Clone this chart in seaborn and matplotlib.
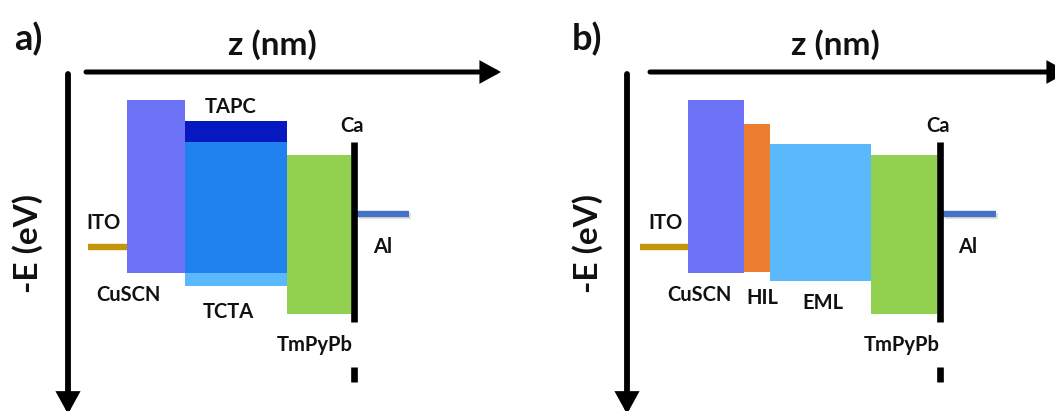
import numpy as np
import matplotlib
matplotlib.use("Agg")
import matplotlib.pyplot as plt
import matplotlib.patheffects as pe
import seaborn as sns

# ---------------- data ----------------
# panel a) energy levels (eV) and layer extents along z (arb. units)
a_layers = ["CuSCN", "TAPC", "TCTA", "TmPyPb"]
a_z_start = [59, 117, 117, 219]
a_z_end = [117, 219, 219, 283]
a_lumo = [-1.86, -2.28, -2.70, -2.96]
a_homo = [-5.32, -5.32, -5.58, -6.14]

# panel b)
b_layers = ["CuSCN", "HIL", "EML", "TmPyPb"]
b_z_start = [61, 117, 143, 244]
b_z_end = [117, 143, 244, 310]
b_lumo = [-1.86, -2.34, -2.74, -2.96]
b_homo = [-5.32, -5.30, -5.48, -6.14]

# electrodes
ito_level = -4.80
al_level = -4.14
ca_top = -2.70
ca_bottom = -6.30
ca_stub = [-7.20, -7.50]
a_ito_z = [20, 59]
a_al_z = [289, 341]
a_ca_z = 286
b_ito_z = [13, 61]
b_al_z = [316, 369]
b_ca_z = 313

colors = {
    "CuSCN": "#6E72F7",
    "TAPC": "#0618C0",
    "TCTA": "#5AB8FC",
    "TAPC/TCTA": "#1F82EE",
    "HIL": "#ED7D31",
    "EML": "#5AB8FC",
    "TmPyPb": "#92D050",
    "ITO": "#C4960A",
    "Al": "#4472C4",
}

# ---------------- style ----------------
sns.set_theme(style="white")
plt.rcParams["font.family"] = ["Lato", "DejaVu Sans"]
plt.rcParams["font.weight"] = "bold"

W, H = 1055, 411
fig = plt.figure(figsize=(W / 100, H / 100), dpi=100)


def to_E(p):
    # pixel row -> energy axis value
    return 0.14 - p / 50.0


def draw_panel(ax, left, right, origin, layers, zs, ze, lumo, homo, ito_z,
               al_z, ca_z, labels, tag, arrow_x):
    ax.set_xlim(left - origin, right - origin)
    ax.set_ylim(to_E(H), to_E(0))
    ax.axis("off")

    heights = np.array(lumo) - np.array(homo)
    widths = np.array(ze) - np.array(zs)
    ax.bar(zs, heights, width=widths, bottom=homo, align="edge",
           color=[colors[l] for l in layers], linewidth=0, zorder=2)

    # overlapping stacked layers (same z range) get a blended colour
    for i in range(len(layers)):
        for j in range(i + 1, len(layers)):
            if zs[i] == zs[j] and ze[i] == ze[j]:
                top = min(lumo[i], lumo[j])
                bot = max(homo[i], homo[j])
                ax.bar(zs[i], top - bot, width=ze[i] - zs[i], bottom=bot,
                       align="edge", color=colors["TAPC/TCTA"], linewidth=0,
                       zorder=3)

    # electrodes
    ax.plot(ito_z, [ito_level, ito_level], color=colors["ITO"], lw=4.6,
            solid_capstyle="butt", zorder=1)
    ax.plot(al_z, [al_level, al_level], color=colors["Al"], lw=4.6,
            solid_capstyle="butt", zorder=1,
            path_effects=[pe.SimpleLineShadow(offset=(1.5, -1.5), alpha=0.12,
                                              shadow_color="black"),
                          pe.Normal()])
    ax.plot([ca_z, ca_z], [ca_top, ca_bottom], color="black", lw=4.8,
            solid_capstyle="butt", zorder=4)
    ax.plot([ca_z, ca_z], ca_stub, color="black", lw=4.8,
            solid_capstyle="butt", zorder=4)

    # axes arrows
    head = "-|>,head_length=1.0,head_width=0.55"
    ax.annotate("", xy=(arrow_x[1] - origin, to_E(72)),
                xytext=(arrow_x[0] - origin, to_E(72)),
                arrowprops=dict(arrowstyle=head, mutation_scale=10, lw=3.6,
                                color="black", shrinkA=0, shrinkB=0,
                                joinstyle="miter"),
                annotation_clip=False)
    ax.annotate("", xy=(0, to_E(414)), xytext=(0, to_E(74)),
                arrowprops=dict(arrowstyle=head, mutation_scale=10, lw=4.2,
                                color="black", shrinkA=0, shrinkB=0,
                                joinstyle="miter"),
                annotation_clip=False)

    # texts
    for txt, (px, py) in labels.items():
        ax.text(px - origin, to_E(py), txt, ha="center", va="center",
                fontsize=14.5, fontweight="bold", color="#111111", zorder=5)
    ax.text(tag[1] - origin, to_E(39), tag[0], ha="center", va="center",
            fontsize=26, fontweight="bold", color="#111111")
    ax.text(tag[2] - origin, to_E(45), "z (nm)", ha="center", va="center",
            fontsize=24, fontweight="bold", color="#111111")
    ax.text(tag[3] - origin, to_E(243), "-E (eV)",
            ha="center", va="center", rotation=90, fontsize=24,
            fontweight="bold", color="#111111")


ax_a = fig.add_axes([0, 0, 527 / W, 1])
ax_b = fig.add_axes([527 / W, 0, 528 / W, 1])

labels_a = {"ITO": (103, 223), "CuSCN": (128, 295), "TAPC": (231, 107),
            "TCTA": (228, 312), "TmPyPb": (315, 345), "Ca": (352, 126),
            "Al": (383, 247)}
labels_b = {"ITO": (665, 223), "CuSCN": (699, 295), "HIL": (762, 298),
            "EML": (823, 303), "TmPyPb": (902, 345), "Ca": (938, 126),
            "Al": (968, 247)}

draw_panel(ax_a, 0, 527, 68, a_layers, a_z_start, a_z_end, a_lumo, a_homo,
           a_ito_z, a_al_z, a_ca_z, labels_a, ("a)", 28, 272, 28), (86, 501))
draw_panel(ax_b, 527, 1055, 627, b_layers, b_z_start, b_z_end, b_lumo, b_homo,
           b_ito_z, b_al_z, b_ca_z, labels_b, ("b)", 587, 835, 588), (650, 1068))

fig.savefig("out.png", dpi=100)
